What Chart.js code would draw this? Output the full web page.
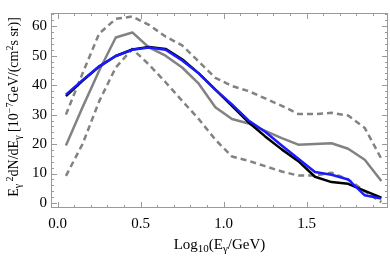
<!DOCTYPE html>
<html lang="en">
<head>
  <meta charset="UTF-8">
  <title>Gamma-ray spectrum</title>
  <script src="https://cdn.jsdelivr.net/npm/chart.js"></script>
  <style>
    html, body { margin: 0; padding: 0; background: #fff; }
    canvas { display: block; }
  </style>
</head>
<body>
  <canvas id="chart" width="390" height="257"></canvas>
  <script>
    // bin centres in log10(E/GeV)
    const logE = [0.05, 0.15, 0.25, 0.35, 0.45, 0.55, 0.65, 0.75, 0.85, 0.95,
                  1.05, 1.15, 1.25, 1.35, 1.45, 1.55, 1.65, 1.75, 1.85, 1.95];

    // E^2 dN/dE in 1e-7 GeV/(cm^2 s sr)
    const blueFit = [36.8, 41.7, 46.4, 49.9, 52.0, 52.8, 52.0, 48.4, 44.0, 38.5,
                     33.5, 28.0, 24.2, 19.5, 15.0, 10.5, 9.6, 8.0, 2.6, 1.5];
    const blackFit = [36.3, 41.5, 46.3, 49.9, 52.1, 53.0, 52.3, 48.8, 44.0, 38.5,
                      33.0, 27.4, 22.6, 18.2, 14.2, 8.9, 7.1, 6.5, 4.1, 1.8];
    const greyMid = [19.5, 32.5, 44.9, 56.2, 57.9, 52.8, 50.0, 46.0, 40.5, 32.5,
                     28.5, 27.0, 24.5, 22.0, 19.8, 20.0, 20.3, 18.4, 14.7, 7.5];
    const greyUpper = [30.0, 44.0, 57.5, 62.5, 63.3, 60.5, 56.5, 53.5, 48.0, 42.5,
                       39.7, 38.0, 35.5, 33.0, 30.2, 30.2, 30.6, 29.7, 25.5, 15.0];
    const greyLower = [9.2, 20.0, 34.5, 46.0, 52.3, 47.0, 41.0, 34.7, 28.5, 21.5,
                       15.8, 14.3, 12.5, 10.7, 9.3, 9.3, 10.3, 8.0, 4.0, 0.3];

    const xTicks = [0, 0.5, 1, 1.5];
    const yTicks = [0, 10, 20, 30, 40, 50, 60];
    const xMinor = [0.1, 0.2, 0.3, 0.4, 0.6, 0.7, 0.8, 0.9, 1.1, 1.2, 1.3, 1.4, 1.6, 1.7, 1.8, 1.9];
    const yMinor = [2, 4, 6, 8, 12, 14, 16, 18, 22, 24, 26, 28, 32, 34, 36, 38, 42, 44, 46, 48, 52, 54, 56, 58, 62, 64];

    const FONT = "'Liberation Serif', 'DejaVu Serif', serif";

    function pts(arr) {
      return logE.map((x, i) => ({ x: x, y: arr[i] }));
    }

    // draw a string made of normal / sub / sup pieces, centred at (cx, cy)
    function drawRich(ctx, parts, cx, cy, angle, size, small) {
      ctx.save();
      ctx.translate(cx, cy);
      ctx.rotate(angle);
      ctx.textBaseline = "alphabetic";
      ctx.textAlign = "left";
      let total = 0;
      parts.forEach(p => {
        ctx.font = (p[1] ? small : size) + "px " + FONT;
        total += ctx.measureText(p[0]).width;
      });
      let x = -total / 2;
      parts.forEach(p => {
        ctx.font = (p[1] ? small : size) + "px " + FONT;
        let dy = 0;
        if (p[1] === "sub") dy = 3;
        if (p[1] === "sup") dy = -5;
        ctx.fillText(p[0], x, 4 + dy);
        x += ctx.measureText(p[0]).width;
      });
      ctx.restore();
    }

    const framePlugin = {
      id: "frame",
      afterDraw(chart) {
        const { ctx, chartArea: a, scales } = chart;
        const xs = scales.x, ys = scales.y;
        ctx.save();
        ctx.strokeStyle = "#9a9a9a";
        ctx.lineWidth = 1;
        ctx.strokeRect(a.left + 0.5, a.top + 0.5, a.width - 1, a.height - 1);
        ctx.beginPath();
        const tick = (vals, len) => {
          vals.forEach(v => {
            const px = Math.round(xs.getPixelForValue(v)) + 0.5;
            ctx.moveTo(px, a.bottom); ctx.lineTo(px, a.bottom - len);
            ctx.moveTo(px, a.top); ctx.lineTo(px, a.top + len);
          });
        };
        const tickY = (vals, len) => {
          vals.forEach(v => {
            const py = Math.round(ys.getPixelForValue(v)) + 0.5;
            ctx.moveTo(a.left, py); ctx.lineTo(a.left + len, py);
            ctx.moveTo(a.right, py); ctx.lineTo(a.right - len, py);
          });
        };
        tick(xTicks, 6); tick(xMinor, 3);
        tickY(yTicks, 6); tickY(yMinor, 3);
        ctx.stroke();
        ctx.restore();

        ctx.fillStyle = "#000";
        // x axis title
        drawRich(ctx, [["Log", ""], ["10", "sub"], ["(E", ""], ["γ", "sub"], ["/GeV)", ""]],
          (a.left + a.right) / 2, 245, 0, 15, 11);
        // y axis title
        drawRich(ctx, [["E", ""], ["γ", "sub"], [" 2", "sup"], ["dN/dE", ""], ["γ", "sub"],
          [" [10", ""], ["−7", "sup"], ["GeV/(cm", ""], ["2", "sup"], ["s sr)]", ""]],
          14, 107, -Math.PI / 2, 14, 10);
      }
    };

    const ctx = document.getElementById("chart").getContext("2d");
    new Chart(ctx, {
      type: "line",
      data: {
        datasets: [
          { data: pts(blueFit), borderColor: "#1a1aff", borderWidth: 2.5 },
          { data: pts(blackFit), borderColor: "#000000", borderWidth: 2.5 },
          { data: pts(greyMid), borderColor: "#828282", borderWidth: 2.5 },
          { data: pts(greyUpper), borderColor: "#828282", borderWidth: 2.5, borderDash: [6, 4] },
          { data: pts(greyLower), borderColor: "#828282", borderWidth: 2.5, borderDash: [6, 4] }
        ]
      },
      options: {
        responsive: false,
        animation: false,
        devicePixelRatio: 1,
        layout: { padding: { top: 0, right: 2, left: 0, bottom: 0 } },
        elements: {
          point: { radius: 0 },
          line: { tension: 0, fill: false, borderJoinStyle: "round" }
        },
        plugins: { legend: { display: false }, tooltip: { enabled: false } },
        scales: {
          x: {
            type: "linear",
            min: -0.04,
            max: 1.99,
            afterBuildTicks: s => { s.ticks = xTicks.map(v => ({ value: v })); },
            afterFit: s => { s.height = 49; },
            grid: { display: false, drawTicks: false },
            border: { display: false },
            ticks: {
              padding: 7,
              color: "#000",
              maxRotation: 0,
              font: { family: FONT, size: 15 },
              callback: v => v.toFixed(1)
            }
          },
          y: {
            type: "linear",
            min: -1.7,
            max: 64.5,
            afterBuildTicks: s => { s.ticks = yTicks.map(v => ({ value: v })); },
            afterFit: s => { s.width = 51; },
            grid: { display: false, drawTicks: false },
            border: { display: false },
            ticks: {
              padding: 4,
              color: "#000",
              font: { family: FONT, size: 15 }
            }
          }
        }
      },
      plugins: [framePlugin]
    });
  </script>
</body>
</html>
